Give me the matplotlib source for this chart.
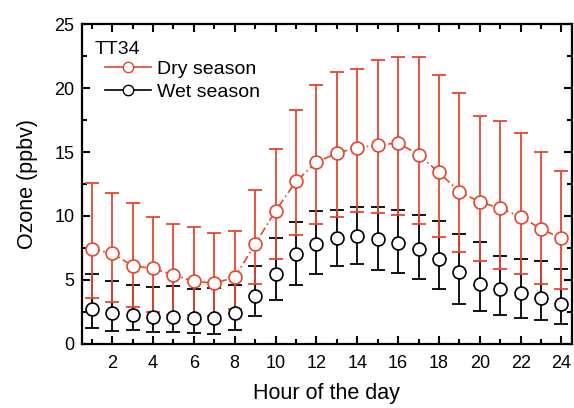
import matplotlib
matplotlib.use("Agg")
import matplotlib.pyplot as plt
from matplotlib.lines import Line2D
from matplotlib.ticker import MultipleLocator

plt.rcParams['font.family'] = ['Liberation Sans', 'DejaVu Sans']

hours = list(range(1, 25))

# dry season: mean and error bar ends
dry_mean = [7.4, 7.1, 6.1, 5.9, 5.4, 4.9, 4.75, 5.2, 7.8, 10.4, 12.7, 14.2,
            14.9, 15.35, 15.55, 15.7, 14.8, 13.4, 11.9, 11.1, 10.6, 9.95, 9.0, 8.25]
dry_high = [12.6, 11.8, 11.05, 9.9, 9.4, 9.15, 8.65, 8.85, 12.0, 15.2, 18.3, 20.2,
            21.25, 21.45, 22.2, 22.4, 22.4, 21.05, 19.6, 17.85, 17.4, 16.5, 15.0, 13.5]
dry_low = [3.6, 3.3, 2.85, 2.5, 2.3, 2.25, 2.2, 2.7, 4.7, 6.6, 8.5, 9.35,
           9.9, 10.35, 10.2, 10.05, 9.35, 8.35, 7.2, 6.5, 5.85, 5.45, 4.7, 4.3]

# wet season
wet_mean = [2.7, 2.45, 2.3, 2.07, 2.1, 2.05, 2.05, 2.45, 3.75, 5.45, 7.0, 7.8,
            8.25, 8.45, 8.2, 7.9, 7.45, 6.6, 5.6, 4.7, 4.3, 3.95, 3.6, 3.1]
wet_high = [5.5, 4.9, 4.6, 4.45, 4.5, 4.3, 4.35, 4.6, 6.1, 8.3, 9.55, 10.4,
            10.45, 10.7, 10.7, 10.45, 10.05, 9.6, 8.6, 7.95, 6.85, 6.65, 6.45, 5.85]
wet_low = [1.25, 1.05, 1.1, 0.9, 0.93, 0.83, 0.78, 1.08, 2.17, 3.45, 4.6, 5.5,
           6.1, 6.25, 5.8, 5.55, 5.05, 4.3, 3.1, 2.55, 2.25, 2.05, 1.9, 1.55]

red = '#e8452f'

fig = plt.figure(figsize=(5.74, 4.08), dpi=100)
ax = fig.add_axes([0.142, 0.157, 0.854, 0.784])

dry_err = [[m - l for m, l in zip(dry_mean, dry_low)],
           [h - m for m, h in zip(dry_mean, dry_high)]]
wet_err = [[m - l for m, l in zip(wet_mean, wet_low)],
           [h - m for m, h in zip(wet_mean, wet_high)]]

ax.errorbar(hours, wet_mean, yerr=wet_err, fmt='none', ecolor='black',
            elinewidth=1.3, capsize=4.8, capthick=1.3, zorder=2)
ax.errorbar(hours, dry_mean, yerr=dry_err, fmt='none', ecolor=red,
            elinewidth=1.3, capsize=4.8, capthick=1.3, zorder=3)
ax.plot(hours, dry_mean, color=red, lw=1.2, ls=(0, (5, 2, 1, 2)), zorder=4)
ax.plot(hours, wet_mean, ls='none', marker='o', ms=9.3, mfc='white',
        mec='black', mew=1.2, zorder=5)
ax.plot(hours, dry_mean, ls='none', marker='o', ms=9.3, mfc='white',
        mec=red, mew=1.2, zorder=6)

ax.set_xlim(0.5, 24.5)
ax.set_ylim(0, 25)
ax.xaxis.set_major_locator(MultipleLocator(2))
ax.xaxis.set_minor_locator(MultipleLocator(1))
ax.yaxis.set_major_locator(MultipleLocator(5))
ax.yaxis.set_minor_locator(MultipleLocator(2.5))
ax.tick_params(which='both', direction='in', top=True, right=True,
               labelsize=13, width=1.5)
ax.tick_params(which='major', length=6)
ax.tick_params(axis='x', which='major', pad=8)
ax.tick_params(axis='y', which='major', pad=5)
ax.tick_params(which='minor', length=3.5)
for s in ax.spines.values():
    s.set_linewidth(1.6)

ax.set_xlabel('Hour of the day', fontsize=15.5, labelpad=8)
ax.set_ylabel('Ozone (ppbv)', fontsize=15.5, labelpad=12)

ax.text(0.0265, 0.922, 'TT34', transform=ax.transAxes, fontsize=14,
        va='center', ha='left')
handles = [Line2D([], [], color=red, lw=1.2, marker='o', ms=7.5, mfc='white', mec=red),
           Line2D([], [], color='black', lw=1.2, marker='o', ms=7.5, mfc='white', mec='black')]
ax.legend(handles, ['Dry season', 'Wet season'], loc='upper left',
          bbox_to_anchor=(0.0475, 0.8875), frameon=False, fontsize=14,
          borderpad=0, borderaxespad=0, handlelength=2.4, handletextpad=0.3,
          labelspacing=0.3)

fig.savefig('out.png', dpi=100)
